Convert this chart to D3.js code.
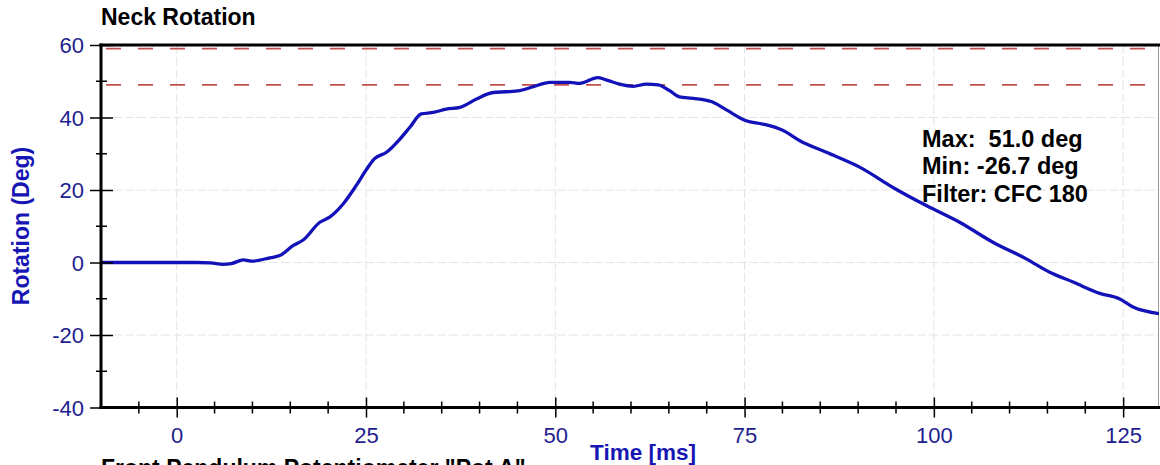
<!DOCTYPE html>
<html>
<head>
<meta charset="utf-8">
<script src="https://cdn.jsdelivr.net/npm/d3@7"></script>
<style>
  html, body { margin: 0; padding: 0; background: #fff; }
  svg { display: block; font-family: "Liberation Sans", Arial, sans-serif; }
</style>
</head>
<body>
<svg id="chart" width="1160" height="465"></svg>
<script>
// ---- data ----
const timeMs = [-10, 2.6, 4.5, 6.1, 7.2, 8.8, 10.1, 12.3, 13.6, 15.4, 16.7, 18.9, 20.2, 22.0, 23.7, 25.1, 26.1, 27.7, 29.5, 30.8, 32.3, 33.9, 35.6, 37.4, 39.6, 41.8, 43.5, 45.3, 47.1, 49.3, 51.9, 53.2, 55.6, 56.7, 58.5, 60.3, 62.0, 63.6, 65.1, 66.4, 68.2, 70.6, 72.6, 75.2, 77.4, 80.1, 82.3, 85.8, 90.2, 94.6, 99.0, 103.4, 107.8, 112.2, 115.3, 118.4, 121.9, 124.5, 126.3, 129.8];
const rotationDeg = [0, 0, -0.1, -0.5, -0.3, 0.7, 0.4, 1.3, 1.9, 4.7, 6.2, 11.1, 12.5, 16.2, 21.2, 25.8, 28.6, 30.4, 34.1, 37.3, 41.0, 41.4, 42.3, 42.8, 45.1, 46.9, 47.1, 47.4, 48.5, 49.7, 49.7, 49.4, 51.0, 50.4, 49.2, 48.6, 49.2, 49.0, 47.4, 45.7, 45.3, 44.4, 42.1, 39.1, 38.2, 36.4, 33.6, 30.4, 26.3, 20.7, 15.7, 11.1, 5.6, 1.0, -2.7, -5.4, -8.5, -10.0, -12.3, -14.1];
const limitLines = [59, 49];
const xTicks = [0, 25, 50, 75, 100, 125];
const xMinorTicks = [-5, 5, 10, 15, 20, 30, 35, 40, 45, 55, 60, 65, 70, 80, 85, 90, 95, 105, 110, 115, 120];
const yTicks = [60, 40, 20, 0, -20, -40];
const yMinorTicks = [50, 30, 10, -10, -30];
const titleText = "Neck Rotation";
const xLabel = "Time [ms]";
const yLabel = "Rotation (Deg)";
const footerText = "Front Pendulum Potentiometer \"Pot A\"";
const statsLines = ["Max:  51.0 deg", "Min: -26.7 deg", "Filter: CFC 180"];

// ---- layout ----
const L = 101, R = 1161, T = 45, B = 407.5;
const svg = d3.select("#chart");
const x = d3.scaleLinear().domain([-10, 130]).range([L, R]);
const y = d3.scaleLinear().domain([-40, 60]).range([B, T]);
const tickColor = "#1e1e8e";
const labelBlue = "#1616b4";
const fmt = d => String(d);

svg.append("rect").attr("width", 1160).attr("height", 465).attr("fill", "#fff");

svg.append("defs").append("clipPath").attr("id", "plotclip")
  .append("rect").attr("x", L).attr("y", T).attr("width", 1159 - L).attr("height", B - T);

// gridlines
const grid = svg.append("g");
grid.selectAll("line.vx").data(xTicks).join("line")
  .attr("x1", d => x(d)).attr("x2", d => x(d)).attr("y1", T).attr("y2", B)
  .attr("stroke", "#e4e4e4").attr("stroke-width", 1).attr("stroke-dasharray", "9,3");
grid.selectAll("line.hy").data(yTicks.filter(d => d > -40 && d < 60)).join("line")
  .attr("x1", L).attr("x2", 1159).attr("y1", d => y(d)).attr("y2", d => y(d))
  .attr("stroke", "#e4e4e4").attr("stroke-width", 1).attr("stroke-dasharray", "9,3");

// right border
svg.append("line").attr("x1", 1158.5).attr("x2", 1158.5).attr("y1", T).attr("y2", B)
  .attr("stroke", "#9a9a9a").attr("stroke-width", 1);

// limit lines
svg.selectAll("line.limit").data(limitLines).join("line")
  .attr("x1", L).attr("x2", 1159).attr("y1", d => y(d)).attr("y2", d => y(d))
  .attr("stroke", "#c0504d").attr("stroke-width", 1.6).attr("stroke-dasharray", "15,17")
  .attr("stroke-dashoffset", -5);

// data line
const line = d3.line().x(d => x(d[0])).y(d => y(d[1])).curve(d3.curveMonotoneX);
svg.append("path").datum(timeMs.map((t, i) => [t, rotationDeg[i]]))
  .attr("clip-path", "url(#plotclip)")
  .attr("d", line).attr("fill", "none").attr("stroke", "#1212b8").attr("stroke-width", 3.3)
  .attr("stroke-linejoin", "round").attr("stroke-linecap", "round");

// top border
svg.append("line").attr("x1", L - 1.5).attr("x2", 1160).attr("y1", T).attr("y2", T)
  .attr("stroke", "#000").attr("stroke-width", 3);

// y axis
const yAxisG = svg.append("g").attr("transform", `translate(${L},0)`)
  .call(d3.axisLeft(y).tickValues(yTicks).tickSize(11).tickPadding(7).tickFormat(fmt));
yAxisG.select(".domain").remove();
yAxisG.selectAll(".tick line").attr("x2", -11).attr("x1", 12).attr("stroke", "#000").attr("stroke-width", 1.5);
yAxisG.selectAll(".tick text").attr("x", -17).attr("fill", tickColor)
  .style("font-size", "22px").attr("dy", "0.36em");
svg.append("g").selectAll("line").data(yMinorTicks).join("line")
  .attr("x1", L - 5).attr("x2", L + 6).attr("y1", d => y(d)).attr("y2", d => y(d))
  .attr("stroke", "#000").attr("stroke-width", 1.5);
svg.append("line").attr("x1", L).attr("x2", L).attr("y1", T - 1.5).attr("y2", B + 1.5)
  .attr("stroke", "#000").attr("stroke-width", 3);

// x axis
const xAxisG = svg.append("g").attr("transform", `translate(0,${B})`)
  .call(d3.axisBottom(x).tickValues(xTicks).tickSize(10).tickPadding(14).tickFormat(fmt));
xAxisG.select(".domain").remove();
xAxisG.selectAll(".tick line").attr("y1", -10).attr("y2", 10).attr("stroke", "#000").attr("stroke-width", 1.5);
xAxisG.selectAll(".tick text").attr("fill", tickColor).style("font-size", "22px")
  .attr("y", 35).attr("dy", 0);
svg.append("g").selectAll("line").data(xMinorTicks).join("line")
  .attr("x1", d => x(d)).attr("x2", d => x(d)).attr("y1", B - 6).attr("y2", B + 6)
  .attr("stroke", "#000").attr("stroke-width", 1.5);
svg.append("line").attr("x1", L - 1.5).attr("x2", 1160).attr("y1", B).attr("y2", B)
  .attr("stroke", "#000").attr("stroke-width", 3);

// texts
svg.append("text").attr("x", 101).attr("y", 25).text(titleText)
  .style("font-size", "23px").style("font-weight", "bold").attr("fill", "#000");
svg.append("text").attr("x", 643).attr("y", 460).attr("text-anchor", "middle").text(xLabel)
  .style("font-size", "22.5px").style("font-weight", "bold").attr("fill", labelBlue);
svg.append("text").attr("transform", "translate(29,226) rotate(-90)").attr("text-anchor", "middle")
  .text(yLabel).style("font-size", "23px").style("font-weight", "bold").attr("fill", labelBlue);
svg.append("text").attr("x", 101).attr("y", 476).text(footerText)
  .style("font-size", "23px").style("font-weight", "bold").attr("fill", "#000");
svg.append("g").selectAll("text").data(statsLines).join("text")
  .attr("x", 922).attr("y", (d, i) => 146.7 + i * 27.5).text(d => d)
  .style("white-space", "pre").style("font-size", "23.5px").style("font-weight", "bold").attr("fill", "#000");
</script>
</body>
</html>
